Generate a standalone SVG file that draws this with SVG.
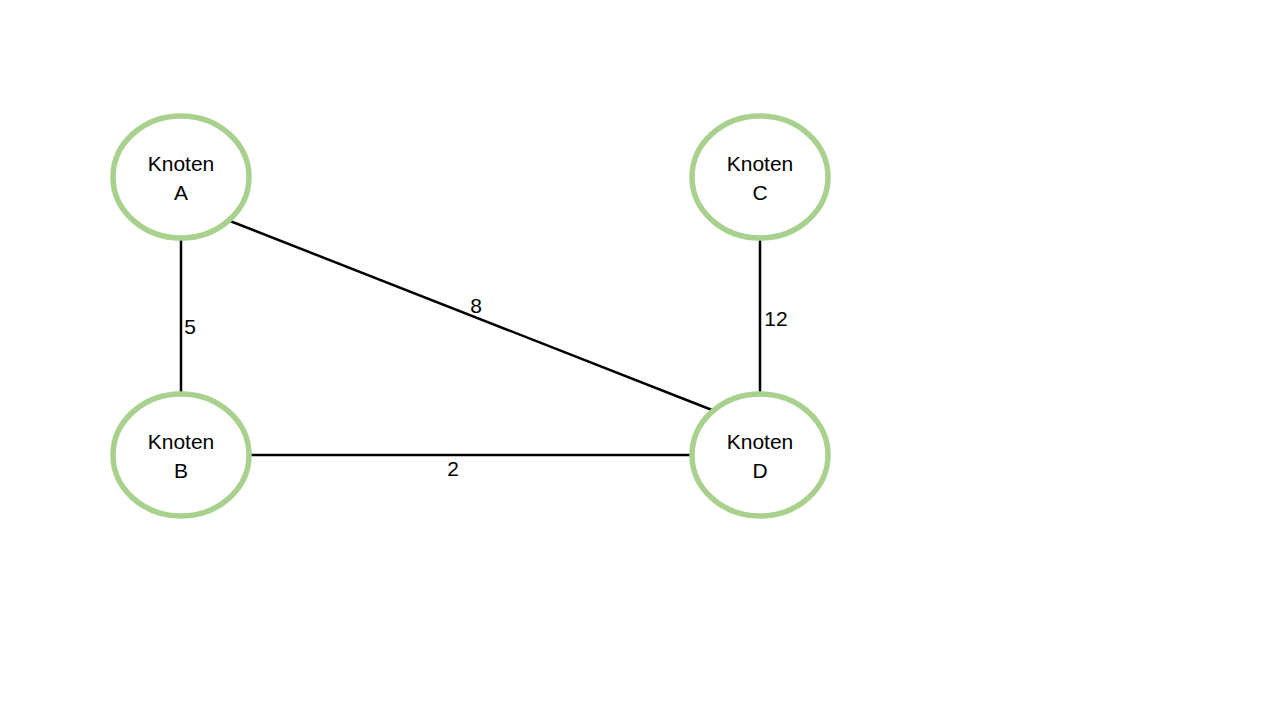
<svg xmlns="http://www.w3.org/2000/svg" width="1280" height="720" viewBox="0 0 1280 720">
<style>
.node{fill:#ffffff;stroke:#A9D18E;stroke-width:5.5}
.edge{stroke:#000000;stroke-width:2.5;fill:none}
.lbl{font-family:"Liberation Sans",Arial,sans-serif;font-size:21px;fill:#000000;text-anchor:middle}
</style>
<rect width="1280" height="720" fill="#ffffff"/>
<g id="connectors">
<line class="edge" x1="181" y1="238" x2="181" y2="394"/>
<line class="edge" x1="230" y1="221" x2="712" y2="410"/>
<line class="edge" x1="760" y1="238" x2="760" y2="394"/>
<line class="edge" x1="249" y1="455" x2="692" y2="455"/>
<text class="lbl" x="190" y="334">5</text>
<text class="lbl" x="476" y="313">8</text>
<text class="lbl" x="776" y="326">12</text>
<text class="lbl" x="453" y="476">2</text>
</g>
<g id="nodeA">
<ellipse class="node" cx="181" cy="177" rx="68" ry="61"/>
<text class="lbl" x="181" y="171">Knoten</text>
<text class="lbl" x="181" y="200">A</text>
</g>
<g id="nodeB">
<ellipse class="node" cx="181" cy="455" rx="68" ry="61"/>
<text class="lbl" x="181" y="449">Knoten</text>
<text class="lbl" x="181" y="478">B</text>
</g>
<g id="nodeC">
<ellipse class="node" cx="760" cy="177" rx="68" ry="61"/>
<text class="lbl" x="760" y="171">Knoten</text>
<text class="lbl" x="760" y="200">C</text>
</g>
<g id="nodeD">
<ellipse class="node" cx="760" cy="455" rx="68" ry="61"/>
<text class="lbl" x="760" y="449">Knoten</text>
<text class="lbl" x="760" y="478">D</text>
</g>
</svg>
